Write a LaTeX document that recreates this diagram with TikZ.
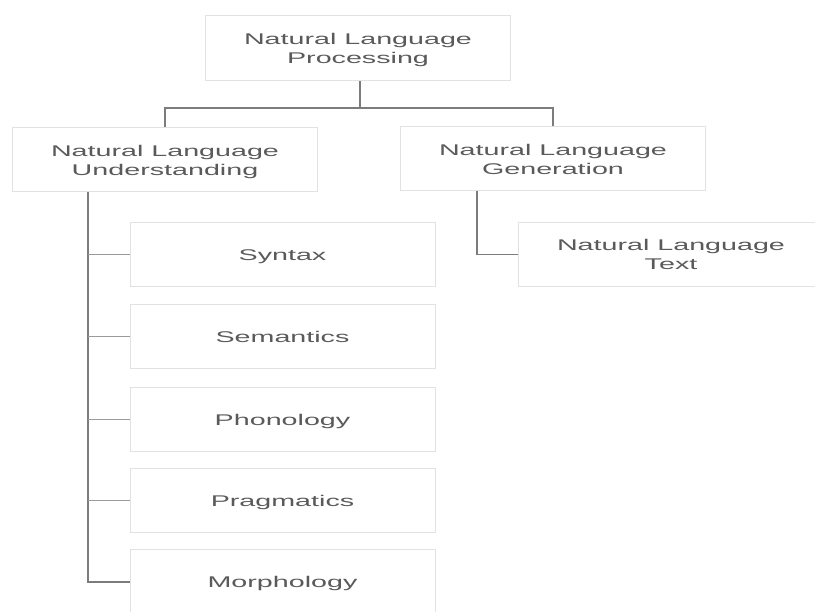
\documentclass[tikz,border=0pt]{standalone}
\usepackage{fontspec}
\newfontfamily\lblfont[FakeStretch=1.85]{Liberation Sans}
\definecolor{boxline}{HTML}{E2E2E2}
\definecolor{conn}{HTML}{7C7C7C}
\definecolor{branch}{HTML}{9A9A9A}
\definecolor{txt}{HTML}{5A5A5A}
\begin{document}
\begin{tikzpicture}[x=1pt,y=-1pt,
  box/.style={draw=boxline, line width=1pt, fill=white, inner sep=0pt,
    minimum width=305pt, minimum height=64pt, align=center, text=txt,
    text depth=0pt, font=\lblfont\fontsize{15.5}{19}\selectfont},
  conline/.style={draw=conn, line width=1.4pt},
  brline/.style={draw=branch, line width=1pt}]
\useasboundingbox (0,0) rectangle (815,612);
\clip (0,0) rectangle (815,612);
\fill[white] (0,0) rectangle (815,612);
% nodes
\node[box, minimum height=65pt] (nlp) at (358,48.5) {Natural Language\\Processing};
\node[box] (nlu) at (165,160) {Natural Language\\Understanding};
\node[box] (nlg) at (553,159) {Natural Language\\Generation};
\node[box, minimum width=306pt] (nlt) at (671,254.5) {Natural Language\\Text};
\node[box] (syn) at (282.5,255) {Syntax};
\node[box] (sem) at (282.5,337) {Semantics};
\node[box] (pho) at (282.5,420) {Phonology};
\node[box] (pra) at (282.5,501) {Pragmatics};
\node[box] (mor) at (282.5,582) {Morphology};
% connectors
\coordinate (split) at (360,108);
\draw[conline] (nlp.south -| split) -- (split);
\draw[conline] (split) -| (nlu.north);
\draw[conline] (split) -| (nlg.north);
\coordinate (spine) at (88,0);
\draw[conline] (nlu.south -| spine) |- (mor.west);
\draw[brline] (spine |- syn.west) -- (syn.west);
\draw[brline] (spine |- sem.west) -- (sem.west);
\draw[brline] (spine |- pho.west) -- (pho.west);
\draw[brline] (spine |- pra.west) -- (pra.west);
\coordinate (gspine) at (477,0);
\draw[conline] (nlg.south -| gspine) |- (nlt.west);
\end{tikzpicture}
\end{document}
